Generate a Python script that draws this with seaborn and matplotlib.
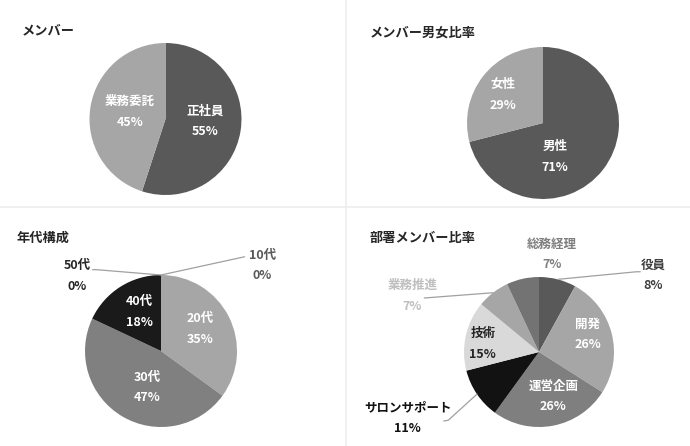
import matplotlib
matplotlib.use('Agg')
import matplotlib.pyplot as plt
from matplotlib.lines import Line2D
import seaborn as sns
import numpy as np

sns.set_theme(style='white')
plt.rcParams['font.family'] = ['Noto Sans CJK JP', 'DejaVu Sans']

# ---------------- data ----------------
titles = ['メンバー', 'メンバー男女比率', '年代構成', '部署メンバー比率']

member_labels = ['正社員', '業務委託']
member_values = [55, 45]

gender_labels = ['男性', '女性']
gender_values = [71, 29]

age_labels = ['10代', '20代', '30代', '40代', '50代']
age_values = [0, 35, 47, 18, 0]

dept_labels = ['役員', '開発', '運営企画', 'サロンサポート', '技術', '業務推進', '総務経理']
dept_values = [8, 26, 26, 11, 15, 7, 7]

# ---------------- styles ----------------
W, H = 690, 446
fig = plt.figure(figsize=(W / 100, H / 100), dpi=100)
fig.patch.set_facecolor('white')

grays = sns.color_palette(['#595959', '#a6a6a6'])


def draw_pie(center, r, values, labels, colors, tcolors, lpos, leaders):
    cx, cy = center
    ax = fig.add_axes([(cx - r) / W, (H - cy - r) / H, 2 * r / W, 2 * r / H])
    ax.pie(values, colors=colors, startangle=90, counterclock=False, radius=1,
           wedgeprops=dict(linewidth=0))
    ax.set_xlim(-1, 1)
    ax.set_ylim(-1, 1)
    ax.set_aspect('equal')
    ax.axis('off')
    total = float(sum(values))
    cum = np.cumsum([0] + list(values))
    for i, (lab, v) in enumerate(zip(labels, values)):
        pct = int(round(v / total * 100))
        dx, dy = lpos[i]
        ax.text(dx, dy, f'{lab}\n{pct}%', ha='center', va='center', color=tcolors[i],
                fontsize=9, fontweight='bold', linespacing=1.75, clip_on=False)
        if i in leaders:
            mid = (cum[i] + cum[i + 1]) / 2 / total
            ang = np.deg2rad(90 - mid * 360)
            pts = [(np.cos(ang), np.sin(ang))] + leaders[i]
            xs, ys = zip(*pts)
            ax.add_line(Line2D(xs, ys, color='#a0a0a0', lw=0.9, clip_on=False))
    return ax


# top-left: メンバー
draw_pie((165.5, 119), 76, member_values, member_labels,
         [grays[0], grays[1]], ['white', 'white'],
         [(0.52, -0.03), (-0.47, 0.09)], {})

# top-right: 男女比率
draw_pie((543, 123), 76, gender_values, gender_labels,
         [grays[0], grays[1]], ['white', 'white'],
         [(0.16, -0.45), (-0.53, 0.37)], {})

# bottom-left: 年代構成
draw_pie((161, 351), 76, age_values, age_labels,
         ['#bfbfbf', '#a6a6a6', '#808080', '#1a1a1a', '#262626'],
         ['#595959', 'white', 'white', 'white', '#262626'],
         [(1.33, 1.125), (0.51, 0.29), (-0.18, -0.48), (-0.28, 0.51), (-1.10, 0.99)],
         {0: [(1.10, 1.24)], 4: [(-0.85, 1.07), (-0.90, 1.07)]})

# bottom-right: 部署メンバー比率
draw_pie((539, 352), 75, dept_values, dept_labels,
         ['#595959', '#a6a6a6', '#7f7f7f', '#121212', '#d9d9d9', '#a6a6a6', '#737373'],
         ['#404040', 'white', 'white', '#111111', '#262626', '#bfbfbf', '#7f7f7f'],
         [(1.52, 1.02), (0.65, 0.23), (0.19, -0.59), (-1.75, -0.88),
          (-0.75, 0.11), (-1.69, 0.75), (0.17, 1.30)],
         {0: [(1.30, 1.07), (1.35, 1.07)], 3: [(-1.21, -0.91), (-1.27, -0.92)],
          5: [(-1.53, 0.72)]})

# titles
title_pos = [(22, 30), (370, 33), (17, 238), (370, 238)]
for t, (x, y) in zip(titles, title_pos):
    fig.text(x / W, 1 - y / H, t, ha='left', va='center', fontsize=9.5,
             fontweight='bold', color='#262626')

# faint panel dividers
fig.add_artist(Line2D([346 / W, 346 / W], [0, 1], transform=fig.transFigure,
                      color='#eeeeee', lw=1.2))
fig.add_artist(Line2D([0, 1], [1 - 207 / H, 1 - 207 / H], transform=fig.transFigure,
                      color='#eeeeee', lw=1.2))

fig.savefig('out.png', dpi=100, facecolor='white')
